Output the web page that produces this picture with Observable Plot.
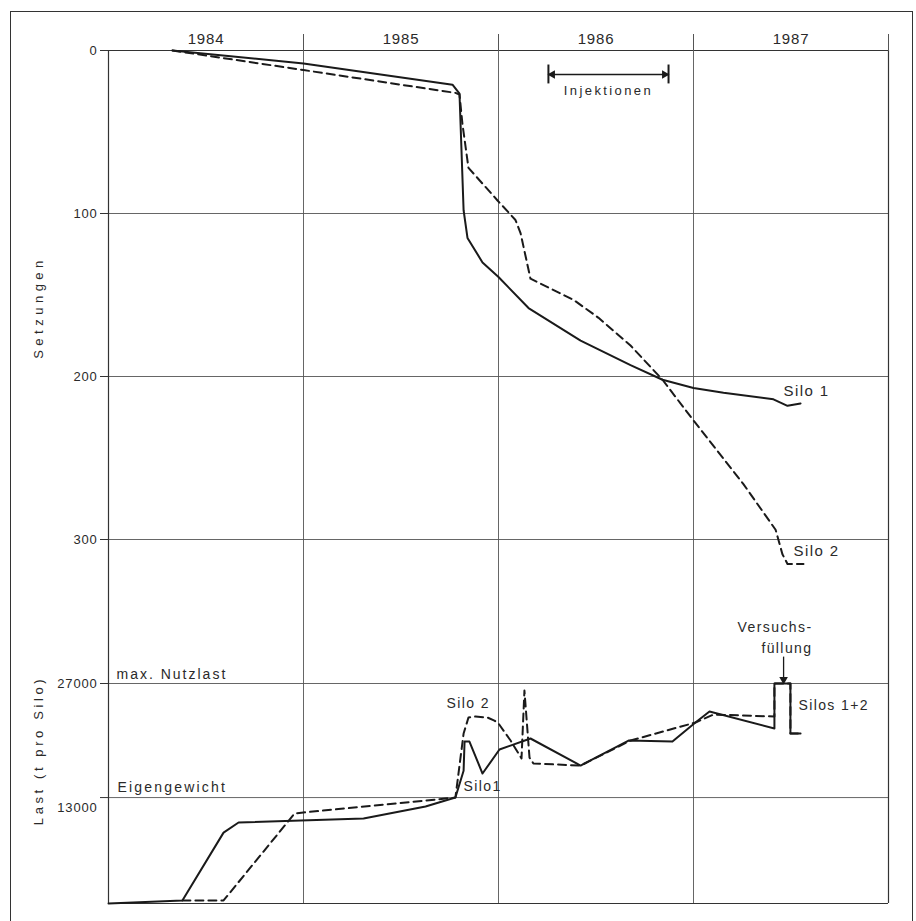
<!DOCTYPE html>
<html><head><meta charset="utf-8">
<script src="https://cdn.jsdelivr.net/npm/d3@7"></script>
<script src="https://cdn.jsdelivr.net/npm/@observablehq/plot@0.6"></script>
<style>
html,body{margin:0;padding:0;background:#fff;}
#page{position:relative;width:916px;height:921px;overflow:hidden;background:#fff;}
#box{position:absolute;left:10px;top:11px;width:903px;height:940px;border:1.5px solid #333;box-sizing:border-box;}
#top,#bot{position:absolute;left:0;}
#top{top:0;}
#bot{top:610px;}
svg text{fill:#2a2a2a;}
</style></head><body>
<div id="page"><div id="box"></div><div id="top"></div><div id="bot"></div></div>
<script>
// ---------- data ----------
const years = [1984, 1985, 1986, 1987];
const yearBounds = [1985, 1986, 1987, 1988];
const setzTicks = [0, 100, 200, 300];
const lastTicks = [27000, 13000];

// Setzungen (settlement), [time in years, value]
const silo1Setz = [[1984.328,0],[1985.0,8],[1985.764,21],[1985.800,26.5],[1985.821,98],[1985.841,115],[1985.918,130],[1986.0,139],[1986.154,158],[1986.421,178],[1986.677,193],[1986.841,202],[1987.0,207],[1987.154,210],[1987.410,214],[1987.482,218],[1987.549,216.5]];
const silo2Setz = [[1984.328,0],[1985.0,12],[1985.779,26],[1985.800,27],[1985.815,45],[1985.846,72],[1985.995,92],[1986.087,104],[1986.113,112],[1986.164,140],[1986.385,153],[1986.513,164],[1986.677,181],[1986.841,202],[1987.0,227],[1987.256,266],[1987.421,294],[1987.456,309],[1987.482,315],[1987.564,315]];

// Last (t pro Silo), [time in years, value]
const silo1Last = [[1984.0,0],[1984.379,370],[1984.590,8700],[1984.667,9940],[1985.308,10430],[1985.626,11900],[1985.779,13000],[1985.821,16300],[1985.826,19880],[1985.851,19880],[1985.918,15950],[1986.005,18900],[1986.164,20250],[1986.421,16930],[1986.667,20000],[1986.892,19880],[1987.010,22210],[1987.082,23560],[1987.415,21470],[1987.415,27000],[1987.497,27000],[1987.497,20860],[1987.549,20860]];
const silo2Last = [[1984.379,370],[1984.590,370],[1984.954,11040],[1985.0,11170],[1985.779,13000],[1985.821,20860],[1985.846,22820],[1985.882,22950],[1985.944,22820],[1985.979,22450],[1986.0,22090],[1986.062,20000],[1986.118,17800],[1986.133,26140],[1986.159,17900],[1986.179,17180],[1986.421,16930],[1986.677,20000],[1987.010,22210],[1987.103,23190],[1987.415,22950],[1987.415,27000],[1987.497,27000],[1987.497,20860],[1987.549,20860]];

// annotations
const injektionen = {from: 1986.256, to: 1986.872, level: 14.7, barTop: 8.6, barBottom: 20.2, label: "Injektionen", labelAt: 27.6};
const setzLabels = [{t: 1987.462, v: 211.7, text: "Silo 1"}, {t: 1987.513, v: 310.4, text: "Silo 2"}];
const lastLabels = [
  {t: 1984.041, v: 27491, text: "max. Nutzlast", anchor: "start"},
  {t: 1984.046, v: 13623, text: "Eigengewicht", anchor: "start"},
  {t: 1985.733, v: 23932, text: "Silo 2", anchor: "start"},
  {t: 1985.821, v: 13868, text: "Silo1", anchor: "start"},
  {t: 1987.538, v: 23687, text: "Silos 1+2", anchor: "start"},
  {t: 1987.610, v: 33260, text: "Versuchs-", anchor: "end"},
  {t: 1987.610, v: 30682, text: "füllung", anchor: "end"}
];
const fillArrow = {t: 1987.462, from: 30300, to: 27500};

// ---------- layout ----------
const W = 916, ML = 108, MR = 28;
const topY0 = 50, split = 610, px100 = 163;
const botBase = 903, px27000 = 683, H = 921;
const topMax = (split - topY0) / px100 * 100;
const botMax = 27000 * (botBase - split) / (botBase - px27000);
const INK = "#1a1a1a", GRID = "#555", FRAME = "#333";
const font = "'Liberation Sans', Arial, sans-serif";

const xs = {domain: [1984, 1988]};

const topPlot = Plot.plot({
  width: W, height: split, marginLeft: ML, marginRight: MR, marginTop: topY0, marginBottom: 0,
  style: {fontFamily: font, fontSize: "13px", color: FRAME, background: "transparent", overflow: "visible"},
  x: xs,
  y: {domain: [0, topMax], reverse: true},
  marks: [
    Plot.ruleY(setzTicks, {stroke: GRID, strokeWidth: 0.9}),
    Plot.ruleY([0], {stroke: FRAME, strokeWidth: 1.2}),
    Plot.ruleX(yearBounds.slice(0, 3), {stroke: GRID, strokeWidth: 0.9}),
    Plot.ruleX([1984, 1988], {stroke: FRAME, strokeWidth: 1.2}),
    Plot.axisX(yearBounds, {anchor: "top", tickSize: 17, tickFormat: () => "", stroke: GRID}),
    Plot.axisX(years.map(y => y + 0.5), {anchor: "top", tickSize: 0, tickPadding: 7, fontSize: 15, tickFormat: d => String(Math.floor(d))}),
    Plot.axisY(setzTicks, {anchor: "left", tickSize: 8, tickPadding: 3, fontSize: 13, tickFormat: d => String(d)}),
    Plot.text(["Setzungen"], {x: 1984, y: (307 - topY0) / px100 * 100, dx: -70, rotate: -90, fontSize: 13, text: d => d}),
    Plot.line(silo1Setz, {x: d => d[0], y: d => d[1], stroke: INK, strokeWidth: 2}),
    Plot.line(silo2Setz, {x: d => d[0], y: d => d[1], stroke: INK, strokeWidth: 2, strokeDasharray: "8,5"}),
    Plot.text(setzLabels, {x: "t", y: "v", text: "text", textAnchor: "start", lineAnchor: "bottom", fontSize: 15}),
    // Injektionen bracket
    Plot.link([injektionen], {x1: "from", x2: "to", y1: "level", y2: "level", stroke: INK, strokeWidth: 1.5}),
    Plot.link([injektionen.from, injektionen.to], {x1: d => d, x2: d => d, y1: () => injektionen.barTop, y2: () => injektionen.barBottom, stroke: INK, strokeWidth: 2}),
    Plot.dot([injektionen.from], {x: d => d, y: () => injektionen.level, symbol: "triangle", r: 3.2, fill: INK, stroke: null, rotate: -90, dx: 4}),
    Plot.dot([injektionen.to], {x: d => d, y: () => injektionen.level, symbol: "triangle", r: 3.2, fill: INK, stroke: null, rotate: 90, dx: -4}),
    Plot.text([injektionen], {x: d => (d.from + d.to) / 2, y: "labelAt", text: "label", lineAnchor: "bottom", fontSize: 13})
  ]
});

const botPlot = Plot.plot({
  width: W, height: H - split, marginLeft: ML, marginRight: MR, marginTop: 0, marginBottom: H - botBase,
  style: {fontFamily: font, fontSize: "13px", color: FRAME, background: "transparent", overflow: "visible"},
  x: {...xs, axis: null},
  y: {domain: [0, botMax]},
  marks: [
    Plot.ruleY(lastTicks, {stroke: GRID, strokeWidth: 0.9}),
    Plot.ruleY([0], {stroke: FRAME, strokeWidth: 1.2}),
    Plot.ruleX(yearBounds.slice(0, 3), {stroke: GRID, strokeWidth: 0.9}),
    Plot.ruleX([1984, 1988], {stroke: FRAME, strokeWidth: 1.2}),
    Plot.axisY(lastTicks, {anchor: "left", tickSize: 8, tickFormat: () => ""}),
    Plot.axisY([lastTicks[0]], {anchor: "left", tickSize: 0, tickPadding: 11, fontSize: 13, tickFormat: d => String(d)}),
    Plot.axisY([lastTicks[1]], {anchor: "left", tickSize: 0, tickPadding: 11, fontSize: 13, dy: 10, tickFormat: d => String(d)}),
    Plot.text(["Last (t pro Silo)"], {x: 1984, y: (botBase - 750) / (botBase - px27000) * 27000, dx: -70, rotate: -90, fontSize: 13, text: d => d}),
    Plot.line(silo1Last, {x: d => d[0], y: d => d[1], stroke: INK, strokeWidth: 2}),
    Plot.line(silo2Last, {x: d => d[0], y: d => d[1], stroke: INK, strokeWidth: 2, strokeDasharray: "8,5"}),
    Plot.text(lastLabels.filter(d => d.anchor === "start"), {x: "t", y: "v", text: "text", textAnchor: "start", lineAnchor: "bottom", fontSize: 14}),
    Plot.text(lastLabels.filter(d => d.anchor === "end"), {x: "t", y: "v", text: "text", textAnchor: "end", lineAnchor: "bottom", fontSize: 14}),
    Plot.link([fillArrow], {x1: "t", x2: "t", y1: "from", y2: "to", stroke: INK, strokeWidth: 1.3}),
    Plot.dot([fillArrow], {x: "t", y: "to", symbol: "triangle", r: 3.2, fill: INK, stroke: null, rotate: 180})
  ]
});

document.getElementById("top").appendChild(topPlot);
document.getElementById("bot").appendChild(botPlot);

// letter spacing like the original lettering
const spacing = {"Setzungen": "4.5px", "Last (t pro Silo)": "3.6px", "Injektionen": "2.4px", "max. Nutzlast": "2px", "Eigengewicht": "2.2px"};
d3.selectAll("svg text").each(function () {
  const t = this.textContent;
  const ls = spacing[t] || (/^\d+$/.test(t) ? "0.8px" : "1.4px");
  this.setAttribute("letter-spacing", ls);
});
</script>
</body></html>
